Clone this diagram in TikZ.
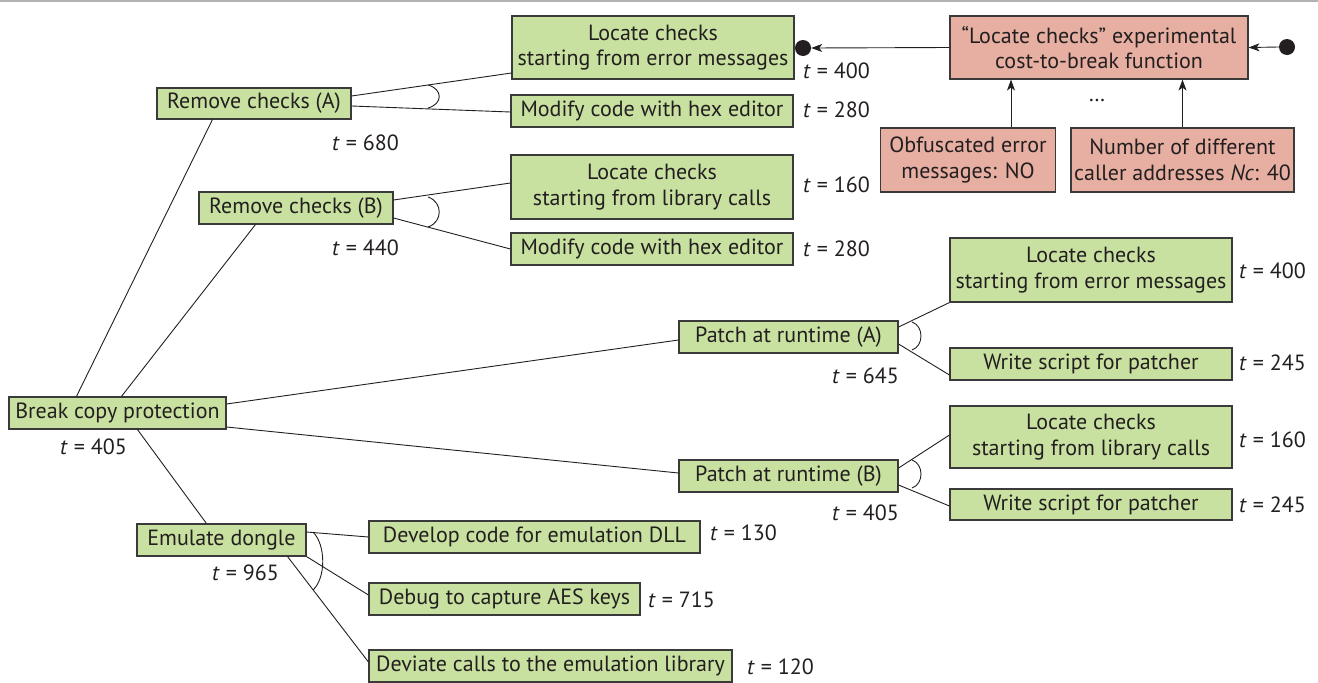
\documentclass[tikz,border=0pt]{standalone}
\usepackage{fontspec}
\setmainfont{PT Sans}
\usetikzlibrary{arrows.meta,calc}
\definecolor{gfill}{HTML}{C8E1A0}
\definecolor{rfill}{HTML}{E6AFA2}
\definecolor{ink}{HTML}{231F20}
\definecolor{frame}{HTML}{3A3A3A}
\begin{document}
\begin{tikzpicture}[x=1pt,y=-1pt,
  every node/.style={font=\fontsize{22}{25.5}\selectfont, text=ink},
  gbox/.style={draw=frame, fill=gfill, line width=1.1pt, inner sep=0pt, align=center},
  rbox/.style={draw=frame, fill=rfill, line width=1.1pt, inner sep=0pt, align=center},
  tl/.style={anchor=west, inner sep=0pt},
  link/.style={draw=ink, line width=0.9pt},
  andarc/.style={draw=ink, line width=0.9pt},
  arr/.style={draw=ink, line width=0.9pt, -{Stealth[length=11pt,width=8pt,inset=3pt]}},
  dot/.style={circle, fill=ink, inner sep=0pt, minimum size=16pt}]
\useasboundingbox (0,0) rectangle (1318,683);
\draw[gray!60, line width=1.5pt] (0,0.75) -- (1318,0.75);

% green boxes
\node[gbox, minimum width=194pt, minimum height=31pt] (RemA) at (254,103.5) {Remove checks (A)};
\node[gbox, minimum width=282pt, minimum height=63pt] (LocA1) at (653,47.5) {Locate checks\\starting from error messages};
\node[gbox, minimum width=282pt, minimum height=32pt] (Mod1) at (652,111) {Modify code with hex editor};
\node[gbox, minimum width=194pt, minimum height=32pt] (RemB) at (296,208) {Remove checks (B)};
\node[gbox, minimum width=282pt, minimum height=64pt] (LocB1) at (652,187) {Locate checks\\starting from library calls};
\node[gbox, minimum width=282pt, minimum height=32pt] (Mod2) at (652,249) {Modify code with hex editor};
\node[gbox, minimum width=217pt, minimum height=32pt] (Break) at (117.5,413) {Break copy protection};
\node[gbox, minimum width=169pt, minimum height=32pt] (Emul) at (221.5,540) {Emulate dongle};
\node[gbox, minimum width=331pt, minimum height=32pt] (Dev) at (534.5,537) {Develop code for emulation DLL};
\node[gbox, minimum width=271pt, minimum height=32pt] (Dbg) at (504.5,599) {Debug to capture AES keys};
\node[gbox, minimum width=363pt, minimum height=32pt] (Devi) at (550.5,666) {Deviate calls to the emulation library};
\node[gbox, minimum width=219pt, minimum height=32pt] (PatA) at (788.5,337) {Patch at runtime (A)};
\node[gbox, minimum width=282pt, minimum height=64pt] (LocA2) at (1091,270) {Locate checks\\starting from error messages};
\node[gbox, minimum width=282pt, minimum height=32pt] (WrA) at (1091,364) {Write script for patcher};
\node[gbox, minimum width=219pt, minimum height=32pt] (PatB) at (788.5,476) {Patch at runtime (B)};
\node[gbox, minimum width=282pt, minimum height=62pt] (LocB2) at (1091,437) {Locate checks\\starting from library calls};
\node[gbox, minimum width=282pt, minimum height=31pt] (WrB) at (1091,504.5) {Write script for patcher};

% red boxes
\node[rbox, minimum width=298pt, minimum height=63pt] (Fn) at (1099,47.5) {``Locate checks'' experimental\\cost-to-break function};
\node[rbox, minimum width=175pt, minimum height=64pt] (Obf) at (968,160) {Obfuscated error\\messages: NO};
\node[rbox, minimum width=223pt, minimum height=64pt] (Num) at (1182.5,160) {Number of different\\caller addresses \textit{Nc}: 40};
\node[inner sep=0pt] (dots) at (1097,100) {\dots};
\node[dot] (D1) at (803,48) {};
\node[dot] (D2) at (1287,47) {};
\draw[arr] (Fn.west) -- (D1.east);
\draw[arr] (D2.west) -- (Fn.east);
\draw[arr] ([xshift=43pt]Obf.north) -- ([xshift=43pt]Obf.north |- Fn.south);
\draw[arr] (Num.north) -- (Num.north |- Fn.south);

% t labels
\node[tl] (t1) at (803,71) {\textit{t} = 400};
\node[tl] (t2) at (803,110) {\textit{t} = 280};
\node[tl] (t3) at (803,185) {\textit{t} = 160};
\node[tl] (t4) at (803,249) {\textit{t} = 280};
\node[tl] (t5) at (332,143) {\textit{t} = 680};
\node[tl] (t6) at (332,248) {\textit{t} = 440};
\node[tl] (t7) at (60,447) {\textit{t} = 405};
\node[tl] (t8) at (212,573) {\textit{t} = 965};
\node[tl] (t9) at (710,533) {\textit{t} = 130};
\node[tl] (t10) at (648,600) {\textit{t} = 715};
\node[tl] (t11) at (747,667) {\textit{t} = 120};
\node[tl] (t12) at (832,376) {\textit{t} = 645};
\node[tl] (t13) at (832,513) {\textit{t} = 405};
\node[tl] (t14) at (1239,271) {\textit{t} = 400};
\node[tl] (t15) at (1239,363) {\textit{t} = 245};
\node[tl] (t16) at (1239,440) {\textit{t} = 160};
\node[tl] (t17) at (1239,505) {\textit{t} = 245};

% connectors
\draw[link] ([xshift=68pt]Break.north west) -- ([xshift=56pt]RemA.south west);
\draw[link] ([xshift=113pt]Break.north west) -- ([xshift=57pt]RemB.south west);
\draw[link] ([xshift=129pt]Break.south west) -- ([xshift=70pt]Emul.north west);
\draw[link] ([yshift=9pt]Break.east) -- ([yshift=-3pt]PatA.west);
\draw[link] ([yshift=-14pt]Break.east) -- ([yshift=3pt]PatB.west);
\draw[link] ([yshift=7.5pt]RemA.east) -- ([yshift=-25.5pt]LocA1.west);
\draw[link] ([yshift=-2.5pt]RemA.east) -- ([yshift=-1pt]Mod1.west);
\draw[link] ([yshift=8pt]RemB.east) -- ([yshift=4pt]LocB1.west);
\draw[link] ([yshift=-10pt]RemB.east) -- ([yshift=0pt]Mod2.west);
\draw[link] ([yshift=10pt]PatA.east) -- (LocA2.south west);
\draw[link] ([yshift=-7pt]PatA.east) -- ([yshift=-11pt]WrA.west);
\draw[link] ([yshift=8pt]PatB.east) -- ([yshift=2pt]LocB2.west);
\draw[link] ([yshift=-9pt]PatB.east) -- ([yshift=-1.5pt]WrB.west);
\draw[link] ([yshift=8pt]Emul.east) -- (Dev.west);
\draw[link] (Emul.south east) -- ([yshift=4pt]Dbg.west);
\draw[link] ([xshift=-19pt]Emul.south east) -- ([yshift=4pt]Devi.west);

% AND arcs
\draw[andarc] (428,85) .. controls (443,89) and (443,104) .. (428,108);
\draw[andarc] (428,197) .. controls (443,202) and (443,222) .. (428,227);
\draw[andarc] (912,322) .. controls (924,326) and (924,346) .. (912,350);
\draw[andarc] (912,460) .. controls (924,464) and (924,484) .. (912,488);
\draw[andarc] (313,532) .. controls (326,545) and (326,578) .. (313,590);
\end{tikzpicture}
\end{document}
